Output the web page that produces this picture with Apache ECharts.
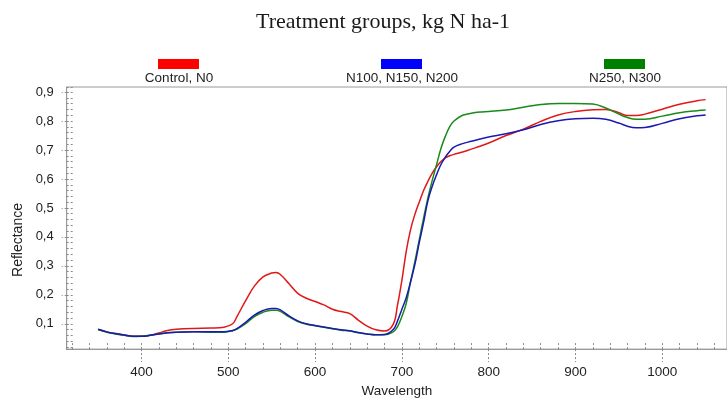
<!DOCTYPE html>
<html><head><meta charset="utf-8">
<script src="https://cdn.jsdelivr.net/npm/echarts@6/dist/echarts.min.js"></script>
<style>html,body{margin:0;padding:0;background:#fff}#c{width:727px;height:403px}</style>
</head><body><div id="c"></div>
<script>
const wavelengths = [350,360,370,380,390,400,410,420,430,440,460,480,495,505,510,520,530,540,550,555,560,570,580,590,600,610,620,630,640,650,660,670,680,690,695,700,705,710,715,720,725,730,735,740,745,750,755,760,770,780,790,800,820,840,860,880,900,920,935,950,960,970,980,1000,1020,1040,1050];
const controlN0 = [0.080,0.072,0.066,0.061,0.057,0.057,0.060,0.068,0.077,0.081,
  0.084,0.085,0.088,0.100,0.125,
  0.180,0.230,0.262,0.275,0.277,0.270,
  0.238,0.205,0.188,0.177,0.165,0.150,0.142,0.135,0.112,0.092,0.079,0.075,0.098,
  0.165,0.250,0.350,0.425,0.478,0.520,0.560,0.592,0.620,0.642,0.660,0.673,0.680,0.685,
  0.693,0.703,0.713,0.724,
  0.750,0.772,0.799,0.821,0.833,0.839,
  0.840,0.829,0.819,0.819,0.824,
  0.841,0.858,0.870,0.874];
const n100to200 = [0.081,0.072,0.066,0.061,0.057,0.057,0.060,0.065,0.069,0.071,
  0.072,0.072,0.072,0.077,0.083,
  0.105,0.130,0.146,0.153,0.153,0.148,
  0.127,0.110,0.100,0.094,0.089,0.084,0.079,0.076,0.070,0.065,0.062,0.063,0.080,
  0.110,0.150,0.190,0.245,0.305,0.380,0.450,0.525,0.575,0.615,0.650,0.675,0.695,0.710,
  0.722,0.730,0.738,0.745,
  0.756,0.770,0.788,0.801,0.808,0.810,
  0.806,0.793,0.782,0.777,0.778,
  0.792,0.808,0.818,0.821];
const n250to300 = [0.080,0.071,0.065,0.060,0.056,0.057,0.060,0.065,0.069,0.071,
  0.072,0.071,0.071,0.076,0.082,
  0.100,0.125,0.140,0.147,0.147,0.143,
  0.124,0.108,0.098,0.093,0.088,0.083,0.078,0.075,0.069,0.065,0.062,0.062,0.072,
  0.090,0.125,0.170,0.245,0.315,0.390,0.465,0.535,0.595,0.650,0.705,0.747,0.780,0.800,
  0.820,0.827,0.831,0.833,
  0.838,0.848,0.857,0.861,0.861,0.859,
  0.845,0.824,0.812,0.806,0.806,
  0.817,0.829,0.836,0.838];
const seriesNames = ['Control, N0','N100, N150, N200','N250, N300'];
const seriesColors = ['#ff0000','#0000ff','#008000'];
const lineColors = ['#e01818','#1a1ab0','#1a8a1a'];
const xTitle = 'Wavelength';
const yTitle = 'Reflectance';
const chartTitle = 'Treatment groups, kg N ha-1';
const xRange = [313.8, 1074.6];
const yRange = [0.0125, 0.9176];

const FONT = '"Liberation Sans", Arial, sans-serif';
const chart = echarts.init(document.getElementById('c'), null, {renderer:'canvas'});
const pairs = arr => wavelengths.map((w,i)=>[w, arr[i]]);
const allData = [controlN0, n100to200, n250to300];
const tickLine = {color:'#8a8a8a', width:1, type:[2,2]};

const legendLefts = [158, 381, 604];
const legendCenters = [179, 402, 625];

chart.setOption({
  animation: false,
  backgroundColor: '#fff',
  title: {
    text: chartTitle, left: 256, top: 11, padding: 0,
    textStyle: {fontFamily: '"Liberation Serif", "Times New Roman", serif', fontSize: 22, fontWeight: 'normal', color: '#1a1a1a'}
  },
  legend: seriesNames.map((n,i)=>({
    data: [n], left: legendLefts[i], top: 59, padding: 0,
    icon: 'rect', itemWidth: 41, itemHeight: 10,
    formatter: () => '', selectedMode: false
  })),
  grid: {left: 66.7, top: 87, right: -2, bottom: 44, show: true, borderColor: '#9a9a9a', borderWidth: 1, backgroundColor: 'transparent'},
  xAxis: [{
    type: 'value', min: xRange[0], max: xRange[1], splitNumber: 7, position: 'bottom',
    axisLine: {show: true, lineStyle: {color: '#9a9a9a', width: 1}},
    axisTick: {show: true, length: 13, lineStyle: tickLine},
    axisLabel: {show: true, margin: 16, fontSize: 13.5, color: '#222', fontFamily: FONT, showMinLabel: false, showMaxLabel: false,
      formatter: v => String(Math.round(v))},
    splitLine: {show: false},
    name: xTitle, nameLocation: 'middle', nameGap: 29,
    nameTextStyle: {fontSize: 13.5, color: '#222', fontFamily: FONT}
  },{
    type: 'value', min: xRange[0], max: xRange[1], splitNumber: 7, position: 'bottom', offset: 0,
    axisLine: {show: false}, axisLabel: {show: false}, splitLine: {show: false},
    axisTick: {show: true, inside: true, length: 6, lineStyle: tickLine},
    minorTick: {show: true, splitNumber: 5, length: 6, lineStyle: tickLine}
  }],
  yAxis: [{
    type: 'value', min: yRange[0], max: yRange[1], splitNumber: 9, position: 'left',
    axisLine: {show: true, lineStyle: {color: '#9a9a9a', width: 1}},
    axisTick: {show: true, length: 5, lineStyle: tickLine},
    axisLabel: {show: true, margin: 13, fontSize: 13, color: '#222', fontFamily: FONT, showMinLabel: false, showMaxLabel: false,
      formatter: v => v.toFixed(1).replace('.', ',')},
    splitLine: {show: false}
  },{
    type: 'value', min: yRange[0], max: yRange[1], splitNumber: 9, position: 'left', offset: 0,
    axisLine: {show: false}, axisLabel: {show: false}, splitLine: {show: false},
    axisTick: {show: true, inside: true, length: 8, lineStyle: tickLine},
    minorTick: {show: true, splitNumber: 5, length: 8, lineStyle: tickLine}
  }],
  graphic: [
    {type: 'text', x: 18, y: 240, rotation: Math.PI/2, style: {text: yTitle, fontSize: 14, fontFamily: FONT, fill: '#222', align: 'center', verticalAlign: 'middle'}},
    ...seriesNames.map((n,i)=>({type: 'text', x: legendCenters[i], y: 78, style: {text: n, fontSize: 13.5, fontFamily: FONT, fill: '#222', align: 'center', verticalAlign: 'middle'}}))
  ],
  series: seriesNames.map((n,i)=>({
    name: n, type: 'line', data: pairs(allData[i]), xAxisIndex: 0, yAxisIndex: 0,
    showSymbol: false, symbol: 'none', smooth: 0.4,
    z: [2, 4, 3][i],
    itemStyle: {color: seriesColors[i]},
    lineStyle: {color: lineColors[i], width: 1.5}
  }))
});
</script>
</body></html>
